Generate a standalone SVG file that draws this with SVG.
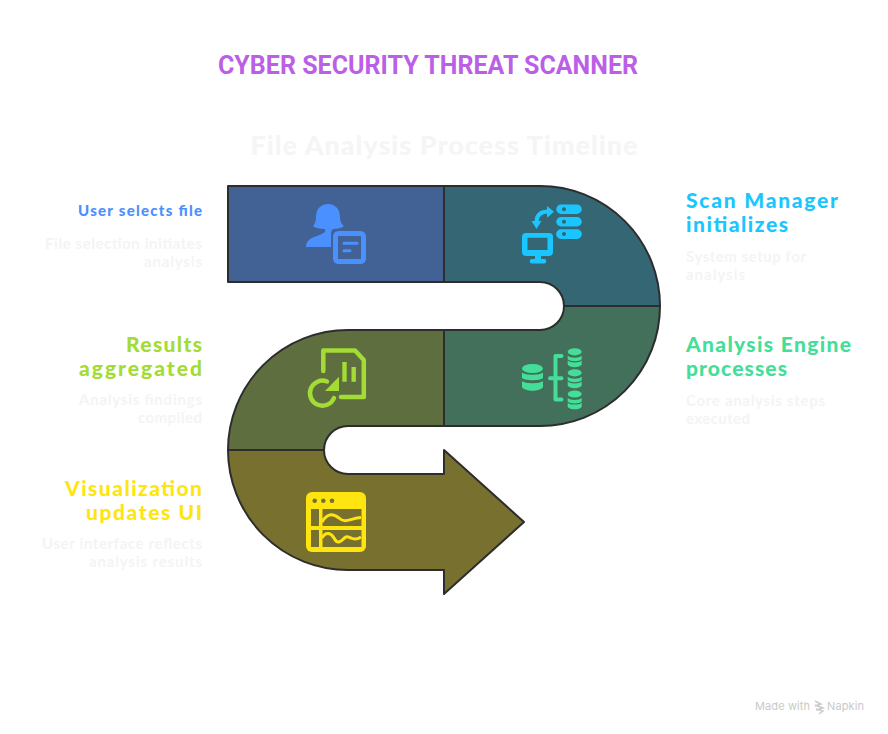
<svg xmlns="http://www.w3.org/2000/svg" width="888" height="734" viewBox="0 0 888 734">
<style>
text{font-family:"Lato","Noto Sans",sans-serif}
.band{stroke:#2d2d2d;stroke-width:2;stroke-linejoin:round}
.h{font-weight:900;font-size:21px}
.hs{font-weight:900;font-size:15px}
.p{font-weight:700;font-size:15px;fill:#f4f4f4}
.l{text-anchor:end}
</style>
<rect width="888" height="734" fill="#ffffff"/>
<text x="428" y="74" text-anchor="middle" textLength="420" style="font-family:Roboto,'Liberation Sans',sans-serif;font-weight:700;font-size:25px;fill:#bb5fe6">CYBER SECURITY THREAT SCANNER</text>
<text x="444" y="155" text-anchor="middle" textLength="387" style="font-weight:900;font-size:27px;fill:#f5f5f5">File Analysis Process Timeline</text>

<g id="step-1">
<path class="band" fill="#426295" d="M228 186H444V282H228Z"/>
<path fill="#4a90ff" d="M306 247c0-5 3-8 8-10c5-2 9-3 11-5v-3c-5 0-10-1-12-3c2-2 3-5 3-9c0-8 5-13 12-13s12 5 12 13c0 4 1 7 4 9c-2 2-6 3-11 3v3l8 4v11Z"/>
<rect x="331" y="229" width="37" height="37" rx="4" fill="#426295"/>
<rect x="335.500" y="233.500" width="28" height="28" rx="3" fill="none" stroke="#4a90ff" stroke-width="5"/>
<path d="M344 243.300H357M344 250.700H350" stroke="#4a90ff" stroke-width="3" stroke-linecap="round" fill="none"/>
<text class="hs l" x="202" y="216" textLength="124" style="fill:#4a90ff">User selects file</text>
<text class="p l" x="202" y="249" textLength="157">File selection initiates</text>
<text class="p l" x="202" y="267" textLength="58">analysis</text>
</g>

<g id="step-2">
<path class="band" fill="#346673" d="M444 186H540A120 120 0 0 1 660 306H564A24 24 0 0 0 540 282H444Z"/>
<g fill="#1ac6ff">
<path fill-rule="evenodd" d="M526 233h23a4 4 0 0 1 4 4v15a4 4 0 0 1-4 4h-8v3h3a2.200 2.200 0 0 1 0 4.500h-12a2.200 2.200 0 0 1 0-4.500h3v-3h-9a4 4 0 0 1-4-4v-15a4 4 0 0 1 4-4Zm1.500 4.700v12.300h20v-12.300Z"/>
<path fill-rule="evenodd" d="M561 204.500h16a4.700 4.700 0 0 1 0 9.500h-16a4.700 4.700 0 0 1 0-9.500Zm3 2.700a2 2 0 1 0 .01 0Z"/>
<path fill-rule="evenodd" d="M561 217h16a4.700 4.700 0 0 1 0 9.500h-16a4.700 4.700 0 0 1 0-9.500Zm3 2.700a2 2 0 1 0 .01 0Z"/>
<path fill-rule="evenodd" d="M561 229.300h16a4.800 4.800 0 0 1 0 9.700h-16a4.800 4.800 0 0 1 0-9.700Zm3 2.800a2 2 0 1 0 .01 0Z"/>
<path d="M547 206l7 5.700l-7 6ZM531.500 221h10l-5 8Z"/>
</g>
<path d="M536.500 222c0-7 4-10.500 12-10.500" fill="none" stroke="#1ac6ff" stroke-width="4"/>
<text class="h" x="686" y="207.500" textLength="152" style="fill:#1ac6ff">Scan Manager</text>
<text class="h" x="686" y="231.500" textLength="102" style="fill:#1ac6ff">initializes</text>
<text class="p" x="686" y="262" textLength="120">System setup for</text>
<text class="p" x="686" y="280" textLength="59">analysis</text>
</g>

<g id="step-3">
<path class="band" fill="#42705a" d="M564 306H660A120 120 0 0 1 540 426H444V330H540A24 24 0 0 0 564 306Z"/>
<g fill="#45de98">
<ellipse cx="532.500" cy="368.500" rx="10.500" ry="4.500"/>
<path d="M522 372.500c3 3 18 3 21 0v5.500c-3 3-18 3-21 0ZM522 381c3 3 18 3 21 0v6c-3 5-18 5-21 0Z"/>
<ellipse cx="574.700" cy="351.800" rx="7" ry="3.600"/>
<path d="M567.700 355.500c2 3 12 3 14 0v3.800c-2 2.500-12 2.500-14 0ZM567.700 360.500c2 2.500 12 2.500 14 0v4c-2 3.500-12 3.500-14 0Z"/>
<ellipse cx="574.700" cy="372.800" rx="7" ry="3.600"/>
<path d="M567.700 376.500c2 3 12 3 14 0v3.800c-2 2.500-12 2.500-14 0ZM567.700 381.500c2 2.500 12 2.500 14 0v4c-2 3.500-12 3.500-14 0Z"/>
<ellipse cx="574.700" cy="394" rx="7" ry="3.600"/>
<path d="M567.700 397.700c2 3 12 3 14 0v3.800c-2 2.500-12 2.500-14 0ZM567.700 402.700c2 2.500 12 2.500 14 0v4c-2 3.500-12 3.500-14 0Z"/>
</g>
<path d="M561.500 356H555.500V399.500H561.500M550 378.300H561.500" fill="none" stroke="#45de98" stroke-width="4" stroke-linecap="round" stroke-linejoin="round"/>
<text class="h" x="686" y="351.500" textLength="165" style="fill:#45de98">Analysis Engine</text>
<text class="h" x="686" y="375.500" textLength="101" style="fill:#45de98">processes</text>
<text class="p" x="686" y="406" textLength="139">Core analysis steps</text>
<text class="p" x="686" y="424" textLength="64">executed</text>
</g>

<g id="step-4">
<path class="band" fill="#5f6e3f" d="M444 330H348A120 120 0 0 0 228 450H324A24 24 0 0 1 348 426H444Z"/>
<path d="M323.300 371V350.500H355L363.800 360V397H341" fill="none" stroke="#a3dc35" stroke-width="4.500" stroke-linejoin="round" stroke-linecap="round"/>
<path d="M344.500 362V381.700M353.700 367V381.700" stroke="#a3dc35" stroke-width="4.400" fill="none"/>
<path d="M334 398A12.500 12.500 0 1 1 327 381.500" fill="none" stroke="#a3dc35" stroke-width="4.500" stroke-linecap="round"/>
<path d="M339 376.700V391H325Z" fill="#a3dc35"/>
<text class="h l" x="202" y="351.500" textLength="76" style="fill:#a3dc35">Results</text>
<text class="h l" x="202" y="375.500" textLength="123" style="fill:#a3dc35">aggregated</text>
<text class="p l" x="202" y="405" textLength="123">Analysis findings</text>
<text class="p l" x="202" y="423" textLength="64">compiled</text>
</g>

<g id="step-5">
<path class="band" fill="#78702f" d="M228 450H324A24 24 0 0 0 348 474H444V450L524 522L444 594V570H348A120 120 0 0 1 228 450Z"/>
<rect x="306" y="492" width="60" height="60" rx="6" fill="#ffe50f"/>
<g fill="#78702f">
<circle cx="314.700" cy="500.700" r="2.300"/><circle cx="323.300" cy="500.700" r="2.300"/><circle cx="332" cy="500.700" r="2.300"/>
<rect x="311" y="509" width="8" height="17"/><rect x="311" y="530" width="8" height="17"/>
<rect x="322.500" y="509" width="39" height="17"/><rect x="322.500" y="530" width="39" height="17"/>
</g>
<path d="M322 522C328 512 334 514 339 518C345 524 351 518 361 517.500M322 538C326 531 331 533 334 538C338 546 342 540 345 537.500C349 534 352 543 361 537" fill="none" stroke="#ffe50f" stroke-width="3"/>
<text class="h l" x="202" y="495.500" textLength="137" style="fill:#ffe50f">Visualization</text>
<text class="h l" x="202" y="519.500" textLength="116" style="fill:#ffe50f">updates UI</text>
<text class="p l" x="202" y="549" textLength="160">User interface reflects</text>
<text class="p l" x="202" y="567" textLength="113">analysis results</text>
</g>

<g id="watermark">
<text x="755" y="710" textLength="55" style="font-family:Inter,'Noto Sans',sans-serif;font-size:11px;fill:#c9c9c9">Made with</text>
<path d="M815 701l6 3l-6 2M815 705l8 3l-7 2M816 709l7 2l-4 3" fill="none" stroke="#c9c9c9" stroke-width="1.400"/>
<text x="827" y="710" textLength="37" style="font-family:Inter,'Noto Sans',sans-serif;font-size:11px;fill:#c9c9c9">Napkin</text>
</g>
</svg>
